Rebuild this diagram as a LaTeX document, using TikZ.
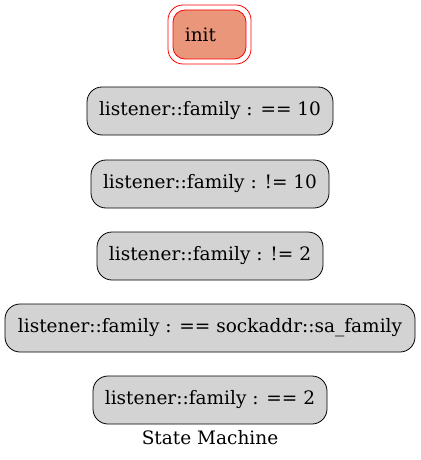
\documentclass[tikz,border=0pt]{standalone}
\usepackage{fontspec}
\setmainfont{DejaVu Serif}
\definecolor{statefill}{HTML}{D3D3D3}
\definecolor{initfill}{HTML}{E9967A}
\begin{document}
\begin{tikzpicture}[x=1pt,y=-1pt,
  every node/.style={font=\fontsize{18.5}{22}\selectfont},
  statebox/.style={draw=black, fill=statefill, rounded corners=15pt, line width=0.8pt,
    minimum height=48pt, inner xsep=0pt, anchor=center},
  initbox/.style={draw=red, fill=initfill, rounded corners=12pt, line width=0.8pt,
    minimum width=73pt, minimum height=49pt, inner sep=0pt},
  initring/.style={draw=red, rounded corners=15pt, line width=0.8pt,
    minimum width=83pt, minimum height=59pt, inner sep=0pt}
]
\useasboundingbox (0,0) rectangle (420,460);
\fill[white] (0,0) rectangle (420,460);

\node[initring] (initouter) at (209.5,34.5) {};
\node[initbox] (init) at (209.5,34.5) {\hspace*{-18pt}init};

\node[statebox, minimum width=246pt] (s1) at (210,111) {listener::family : == 10};
\node[statebox, minimum width=238pt] (s2) at (210,184) {listener::family : != 10};
\node[statebox, minimum width=226pt] (s3) at (210,256) {listener::family : != 2};
\node[statebox, minimum width=410pt] (s4) at (210,328) {listener::family : == sockaddr::sa\_family};
\node[statebox, minimum width=234pt] (s5) at (210,400) {listener::family : == 2};

\node (title) at (210,438) {State Machine};
\end{tikzpicture}
\end{document}
